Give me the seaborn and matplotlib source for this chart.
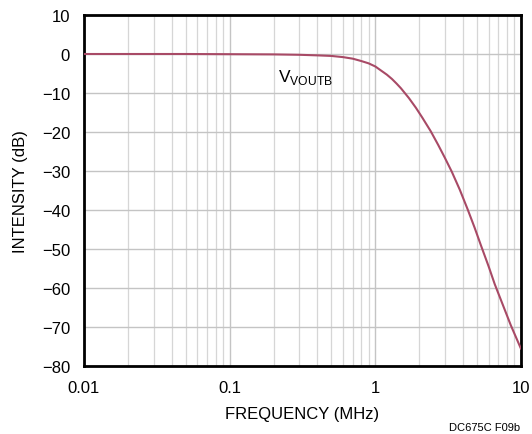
import matplotlib
matplotlib.use("Agg")
import matplotlib.pyplot as plt
import seaborn as sns
import numpy as np
import pandas as pd
from matplotlib.ticker import LogLocator, FixedLocator, NullFormatter

freq_mhz = [0.01, 0.05, 0.1, 0.2, 0.3, 0.4, 0.5, 0.6, 0.7, 0.8, 0.9, 1.0, 1.1, 1.2,
            1.3, 1.4, 1.5, 1.7, 1.9, 2.1, 2.4, 2.7, 3.0, 3.35, 3.8, 4.3, 4.8, 5.3,
            6.0, 6.6, 7.5, 8.5, 10.0]
intensity_db = [0.0, 0.0, -0.05, -0.1, -0.2, -0.35, -0.5, -0.8, -1.2, -1.8, -2.4, -3.2,
                -4.3, -5.3, -6.4, -7.6, -8.8, -11.3, -13.8, -16.3, -19.8, -23.3, -26.6,
                -30.2, -34.8, -39.8, -44.5, -49.0, -54.5, -59.0, -64.3, -69.5, -75.6]
x_ticks = [0.01, 0.1, 1, 10]
x_tick_labels = ["0.01", "0.1", "1", "10"]
y_ticks = [-80, -70, -60, -50, -40, -30, -20, -10, 0, 10]
y_tick_labels = ["\u221280", "\u221270", "\u221260", "\u221250", "\u221240", "\u221230",
                 "\u221220", "\u221210", "0", "10"]

sns.set_theme(style="white")
plt.rcParams['font.family'] = ['Liberation Sans Narrow', 'Liberation Sans', 'DejaVu Sans']

df = pd.DataFrame({"freq": freq_mhz, "db": intensity_db})

fig = plt.figure(figsize=(5.32, 4.35), dpi=100)
ax = fig.add_axes([84/532, 1-367/435, (521-84)/532, (367-16)/435])

ax.set_xscale("log")
sns.lineplot(data=df, x="freq", y="db", ax=ax, color="#a84a66", linewidth=1.5, zorder=5)

ax.set_xlim(0.01, 10)
ax.set_ylim(-80, 10)
ax.xaxis.set_major_locator(FixedLocator(x_ticks))
ax.set_xticklabels(x_tick_labels)
ax.xaxis.set_minor_locator(LogLocator(base=10, subs=np.arange(2, 10)))
ax.xaxis.set_minor_formatter(NullFormatter())
ax.yaxis.set_major_locator(FixedLocator(y_ticks))
ax.set_yticklabels(y_tick_labels)

ax.grid(which="major", axis="both", color="#c4c4c4", linewidth=1.0)
ax.grid(which="minor", axis="x", color="#d6d6d6", linewidth=0.9)
ax.set_axisbelow(True)

for s in ax.spines.values():
    s.set_color("black")
    s.set_linewidth(2)

ax.tick_params(axis="x", which="both", length=0, labelsize=12, colors="black", pad=10)
ax.tick_params(axis="y", which="both", length=0, labelsize=12, colors="black", pad=10)
ax.set_xlabel("FREQUENCY (MHz)", fontsize=12, color="black", labelpad=8)
ax.set_ylabel("INTENSITY (dB)", fontsize=12, color="black", labelpad=10)

ax.text(0.214, -6.8, r"V$_{\mathregular{VOUTB}}$", fontsize=12.5,
        color="black", ha="left", va="baseline", zorder=6)

fig.text(520/532, 1-428/435, "DC675C F09b", fontsize=8, ha="right", va="center", color="black")

fig.savefig("out.png", dpi=100)
